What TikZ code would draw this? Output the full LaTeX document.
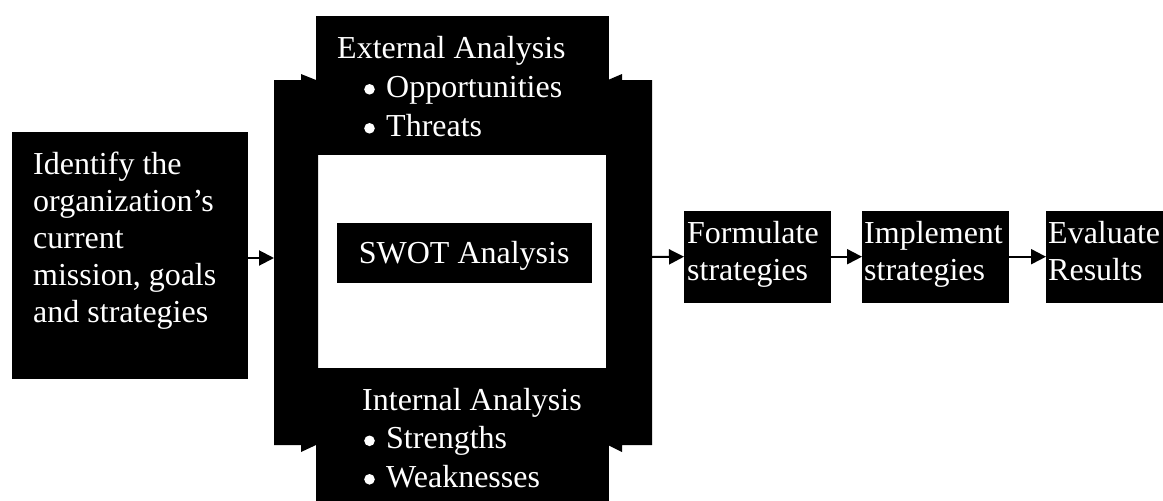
\documentclass[tikz,border=0pt]{standalone}
\usepackage{fontspec}
\setmainfont{Liberation Serif}
\usetikzlibrary{arrows.meta}
\tikzset{
  box/.style={rectangle, draw=black, fill=black, inner sep=0pt, anchor=north west},
  txt/.style={text=white, inner sep=0pt, anchor=base west, font=\fontsize{32}{37}\selectfont},
  arr/.style={line width=2pt, -{Triangle[length=15pt,width=15pt]}},
}
\newcommand{\blt}{\makebox[23pt][l]{\hspace*{1pt}\raisebox{2.4pt}{\tikz\fill[white] (0pt,0pt) circle (5.3pt);}}}
\begin{document}
\begin{tikzpicture}[x=1pt,y=-1pt]
\useasboundingbox (0,0) rectangle (1163,501);
\clip (0,0) rectangle (1163,501);

% first step
\node[box, minimum width=235pt, minimum height=246pt] (id) at (12,132) {};
\node[txt] (idtext) at (33,174) {\parbox[t]{210pt}{\raggedright Identify the\\organization’s\\current\\mission, goals\\and strategies}};

% SWOT frame: side columns
\fill (274,80) -- (301,80) -- (301,74) -- (316,80) -- (318,80) -- (318,445) -- (316,445) -- (301,452) -- (301,445) -- (274,445) -- cycle;
\fill (652,80) -- (622,80) -- (622,74) -- (608,80) -- (606,80) -- (606,445) -- (608,445) -- (622,452) -- (622,445) -- (652,445) -- cycle;

% external / internal boxes
\node[box, minimum width=292pt, minimum height=138pt] (ext) at (316,16) {};
\node[txt] (exttext) at (337,58) {\parbox[t]{270pt}{\fontsize{32}{39}\selectfont External Analysis\\\hspace*{26pt}\blt Opportunities\\\hspace*{26pt}\blt Threats}};
\node[box, minimum width=292pt, minimum height=150pt] (int) at (316,368) {};
\node[txt] (inttext) at (362,410) {\parbox[t]{240pt}{\fontsize{32}{38.5}\selectfont Internal Analysis\\\hspace*{1pt}\blt Strengths\\\hspace*{1pt}\blt Weaknesses}};

% SWOT analysis box
\node[box, minimum width=254pt, minimum height=59pt, text=white, font=\fontsize{32}{37}\selectfont, text height=26pt, text depth=5pt] (swot) at (337,223) {SWOT Analysis};

\coordinate (frameW) at (274,258);
\coordinate (frameE) at (652,257);

% following steps
\node[box, minimum width=146pt, minimum height=91pt] (form) at (684,211) {};
\node[txt] (formtext) at (687,243) {\parbox[t]{140pt}{\raggedright Formulate\\strategies}};
\node[box, minimum width=146pt, minimum height=91pt] (impl) at (862,211) {};
\node[txt] (impltext) at (864,243) {\parbox[t]{140pt}{\raggedright Implement\\strategies}};
\node[box, minimum width=146pt, minimum height=91pt] (eval) at (1046,211) {};
\node[txt] (evaltext) at (1048,243) {\parbox[t]{140pt}{\raggedright Evaluate\\Results}};

% connectors
\draw[arr] (id.east |- frameW) -- (frameW);
\draw[arr] (frameE) -- (form.west);
\draw[arr] (form.east) -- (impl.west);
\draw[arr] (impl.east) -- (eval.west);
\end{tikzpicture}
\end{document}
